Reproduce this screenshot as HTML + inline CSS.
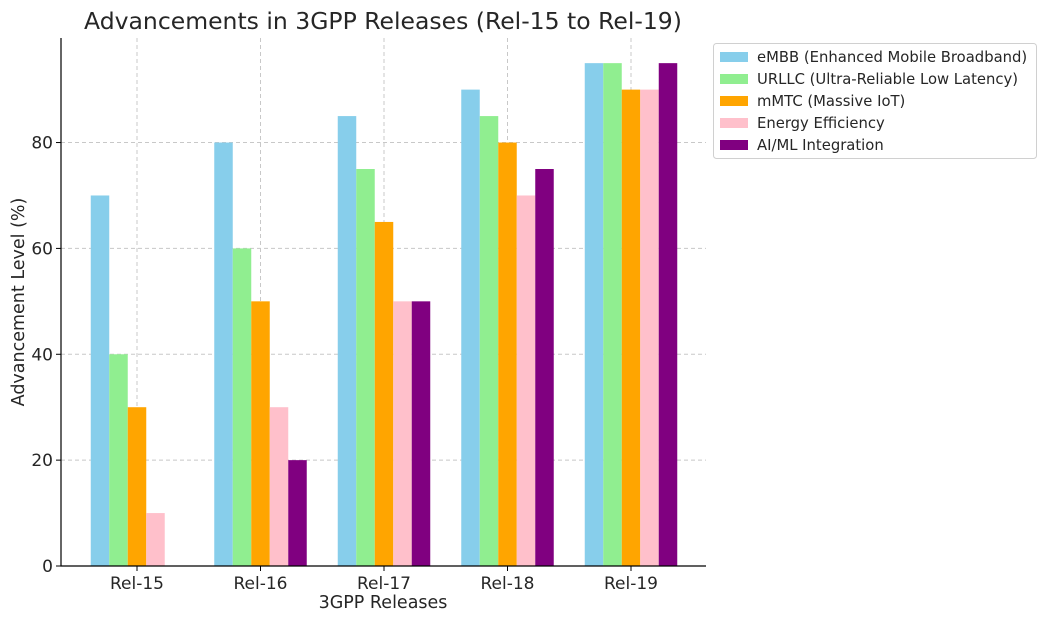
<!DOCTYPE html>
<html><head><meta charset="utf-8"><style>
body{margin:0;background:#fff;}
svg text{font-family:"DejaVu Sans","Liberation Sans",sans-serif;fill:#262626;}
</style></head><body>
<svg id="chart" width="1044" height="622" xmlns="http://www.w3.org/2000/svg">
<text x="383" y="29" font-size="23.5" text-anchor="middle">Advancements in 3GPP Releases (Rel-15 to Rel-19)</text>
<g id="grid"></g><g id="bars"></g><g id="axes"></g><g id="legend"></g>
<text x="383" y="608" font-size="17.5" text-anchor="middle">3GPP Releases</text>
<text transform="translate(24,302) rotate(-90)" font-size="17.5" text-anchor="middle">Advancement Level (%)</text>
</svg>
<script>
const categories=["Rel-15","Rel-16","Rel-17","Rel-18","Rel-19"];
const seriesNames=["eMBB (Enhanced Mobile Broadband)","URLLC (Ultra-Reliable Low Latency)","mMTC (Massive IoT)","Energy Efficiency","AI/ML Integration"];
const embb=[70,80,85,90,95];
const urllc=[40,60,75,85,95];
const mmtc=[30,50,65,80,90];
const energy=[10,30,50,70,90];
const aiml=[0,20,50,75,95];
const yTicks=[0,20,40,60,80];
const series=[embb,urllc,mmtc,energy,aiml];
const colors=["#87ceeb","#90ee90","#ffa500","#ffc0cb","#800080"];
const NS="http://www.w3.org/2000/svg";
const L=61,R=706,T=38,B=566,yMax=99.75;
const step=123.5,x0=137,bw=18.5;
const xS=i=>x0+i*step;
const yS=v=>B-v*(B-T)/yMax;
function mk(tag,attrs,parent){const e=document.createElementNS(NS,tag);for(const k in attrs)e.setAttribute(k,attrs[k]);parent.appendChild(e);return e;}
const grid=document.getElementById('grid'),bars=document.getElementById('bars'),axes=document.getElementById('axes'),legend=document.getElementById('legend');
yTicks.forEach(t=>{
 const y=yS(t);
 if(t>0){const g=mk('line',{x1:L,x2:R,y1:y,y2:y,stroke:'#c8c8c8','stroke-dasharray':'4,3','stroke-width':1},grid);
 
 }
 const tk=mk('line',{x1:L-5,x2:L,y1:y,y2:y,stroke:'#000'},axes);
 
 
 const tx=mk('text',{x:L-8,y:y+6,'font-size':17,'text-anchor':'end'},axes);tx.textContent=t;
 
 
});
categories.forEach((c,i)=>{
 const x=xS(i);
 const g=mk('line',{x1:x,x2:x,y1:T,y2:B,stroke:'#c8c8c8','stroke-dasharray':'4,3'},grid);
 
 
 const tk=mk('line',{x1:x,x2:x,y1:B,y2:B+5,stroke:'#000'},axes);
 
 
 const tx=mk('text',{x:x,y:B+23,'font-size':17,'text-anchor':'middle'},axes);tx.textContent=c;
 
 
 series.forEach((s,j)=>{
  const bx=x+(j-2.5)*bw;const y=yS(s[i]);
  const r=mk('rect',{x:bx,y:y,width:bw,height:B-y,fill:colors[j]},bars);
  
  
 });
});
const ax=mk('path',{d:`M${L},${T} V${B} H${R}`,stroke:'#000',fill:'none','stroke-width':1.2},axes);


const lb=mk('rect',{x:713.5,y:43.5,width:323,height:115,fill:'#fff',stroke:'#d0d0d0',rx:3},legend);


seriesNames.forEach((n,j)=>{
 const y=57+j*22;
 const sw=mk('rect',{x:720,y:y-5,width:28,height:10,fill:colors[j]},legend);
 
 
 const t=mk('text',{x:757,y:y+5,'font-size':14.8},legend);t.textContent=n;
 
 
});
</script>
</body></html>
